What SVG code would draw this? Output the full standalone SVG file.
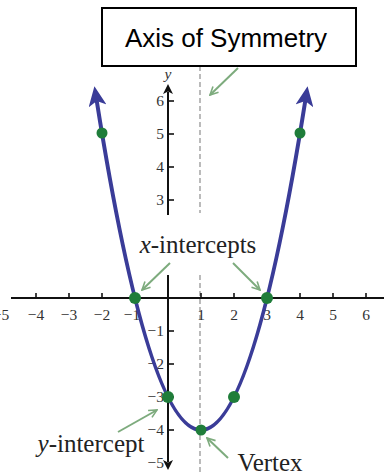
<svg xmlns="http://www.w3.org/2000/svg" width="384" height="475" viewBox="0 0 384 475">
<style>
.ax{stroke:#111;stroke-width:2;fill:none}
.tk{stroke:#111;stroke-width:1.6}
.num{font-family:"Liberation Serif",serif;font-size:15.5px;fill:#333}
.lbl{font-family:"Liberation Serif",serif;font-size:25px;fill:#222}
.sym{stroke:#aaa;stroke-width:1.6;stroke-dasharray:5,3;fill:none}
.gr{stroke:#7dab7d;stroke-width:2;fill:none}
.dot{fill:#1f7d3a}
</style>
<defs>
<marker id="ga" viewBox="0 0 10 10" refX="9" refY="5" markerWidth="5" markerHeight="5" orient="auto" markerUnits="strokeWidth">
<path d="M1,1 L9,5 L1,9" fill="none" stroke="#7dab7d" stroke-width="1.6"/>
</marker>
<marker id="ba" viewBox="0 0 20 18" refX="6" refY="9" markerWidth="5" markerHeight="4.5" orient="auto-start-reverse" markerUnits="strokeWidth">
<path d="M0,0 L20,9 L0,18 L5,9 Z" fill="#3a3c98"/>
</marker>
<marker id="ka" viewBox="0 0 10 10" refX="2" refY="5" markerWidth="5" markerHeight="5" orient="auto-start-reverse" markerUnits="strokeWidth">
<path d="M0,0 L10,5 L0,10 L2.5,5 Z" fill="#111"/>
</marker>
</defs>

<g id="axis-of-symmetry">
<line class="sym" x1="200" y1="66" x2="200" y2="213"/>
<line class="sym" x1="200" y1="275" x2="200" y2="475"/>
</g>

<g id="x-axis">
<line class="ax" x1="11" y1="298" x2="384" y2="298"/>
<g class="tk">
<line x1="36" y1="293" x2="36" y2="298"/>
<line x1="69" y1="293" x2="69" y2="298"/>
<line x1="102" y1="293" x2="102" y2="298"/>
<line x1="135" y1="293" x2="135" y2="298"/>
<line x1="201" y1="293" x2="201" y2="298"/>
<line x1="234" y1="293" x2="234" y2="298"/>
<line x1="267" y1="293" x2="267" y2="298"/>
<line x1="300" y1="293" x2="300" y2="298"/>
<line x1="333" y1="293" x2="333" y2="298"/>
<line x1="366" y1="293" x2="366" y2="298"/>
</g>
<g class="num" text-anchor="middle">
<text x="1" y="320">−5</text>
<text x="36" y="320">−4</text>
<text x="69" y="320">−3</text>
<text x="102" y="320">−2</text>
<text x="132" y="320">−1</text>
<text x="201" y="320">1</text>
<text x="234" y="320">2</text>
<text x="267" y="320">3</text>
<text x="300" y="320">4</text>
<text x="333" y="320">5</text>
<text x="366" y="320">6</text>
</g>
</g>

<g id="y-axis">
<line class="ax" x1="168" y1="215" x2="168" y2="92" marker-end="url(#ka)"/>
<line class="ax" x1="168" y1="275" x2="168" y2="462" marker-end="url(#ka)"/>
<g class="tk">
<line x1="168" y1="101" x2="174" y2="101"/>
<line x1="168" y1="134" x2="174" y2="134"/>
<line x1="168" y1="167" x2="174" y2="167"/>
<line x1="168" y1="200" x2="174" y2="200"/>
<line x1="168" y1="331" x2="174" y2="331"/>
<line x1="168" y1="364" x2="174" y2="364"/>
<line x1="168" y1="397" x2="174" y2="397"/>
<line x1="168" y1="430" x2="174" y2="430"/>
</g>
<g class="num" text-anchor="end">
<text x="164" y="106">6</text>
<text x="164" y="139">5</text>
<text x="164" y="172">4</text>
<text x="164" y="205">3</text>
<text x="164" y="336">−1</text>
<text x="164" y="369">−2</text>
<text x="164" y="402">−3</text>
<text x="164" y="435">−4</text>
<text x="164" y="468">−5</text>
</g>
<text class="num" x="168" y="79" text-anchor="middle" font-style="italic">y</text>
</g>

<g id="parabola">
<path d="M96.6,100 Q201,760 305.4,100" fill="none" stroke="#3a3c98" stroke-width="4" marker-start="url(#ba)" marker-end="url(#ba)"/>
</g>

<g id="points">
<circle class="dot" cx="102" cy="133" r="5.5"/>
<circle class="dot" cx="135" cy="298" r="6"/>
<circle class="dot" cx="168" cy="397" r="6"/>
<circle class="dot" cx="201" cy="430" r="5.5"/>
<circle class="dot" cx="234" cy="397" r="6"/>
<circle class="dot" cx="267" cy="298" r="6"/>
<circle class="dot" cx="300" cy="133" r="5.5"/>
</g>

<g id="connectors">
<line class="gr" x1="238" y1="68" x2="210" y2="95" marker-end="url(#ga)"/>
<line class="gr" x1="170" y1="263" x2="142" y2="290" marker-end="url(#ga)"/>
<line class="gr" x1="233" y1="263" x2="260" y2="290" marker-end="url(#ga)"/>
<line class="gr" x1="118" y1="432" x2="157" y2="410" marker-end="url(#ga)"/>
<line class="gr" x1="228" y1="458" x2="207" y2="438" marker-end="url(#ga)"/>
</g>

<g id="title-box">
<rect x="102" y="8" width="254" height="58" fill="#fff" stroke="#000" stroke-width="2"/>
<text x="226" y="47" text-anchor="middle" font-family="Liberation Sans, sans-serif" font-size="26" fill="#000">Axis of Symmetry</text>
</g>

<g id="x-intercepts-label">
<text class="lbl" x="198" y="253" text-anchor="middle"><tspan font-style="italic">x</tspan>-intercepts</text>
</g>
<g id="y-intercept-label">
<text class="lbl" x="91" y="452" text-anchor="middle"><tspan font-style="italic">y</tspan>-intercept</text>
</g>
<g id="vertex-label">
<text class="lbl" x="270" y="471" text-anchor="middle">Vertex</text>
</g>
</svg>
